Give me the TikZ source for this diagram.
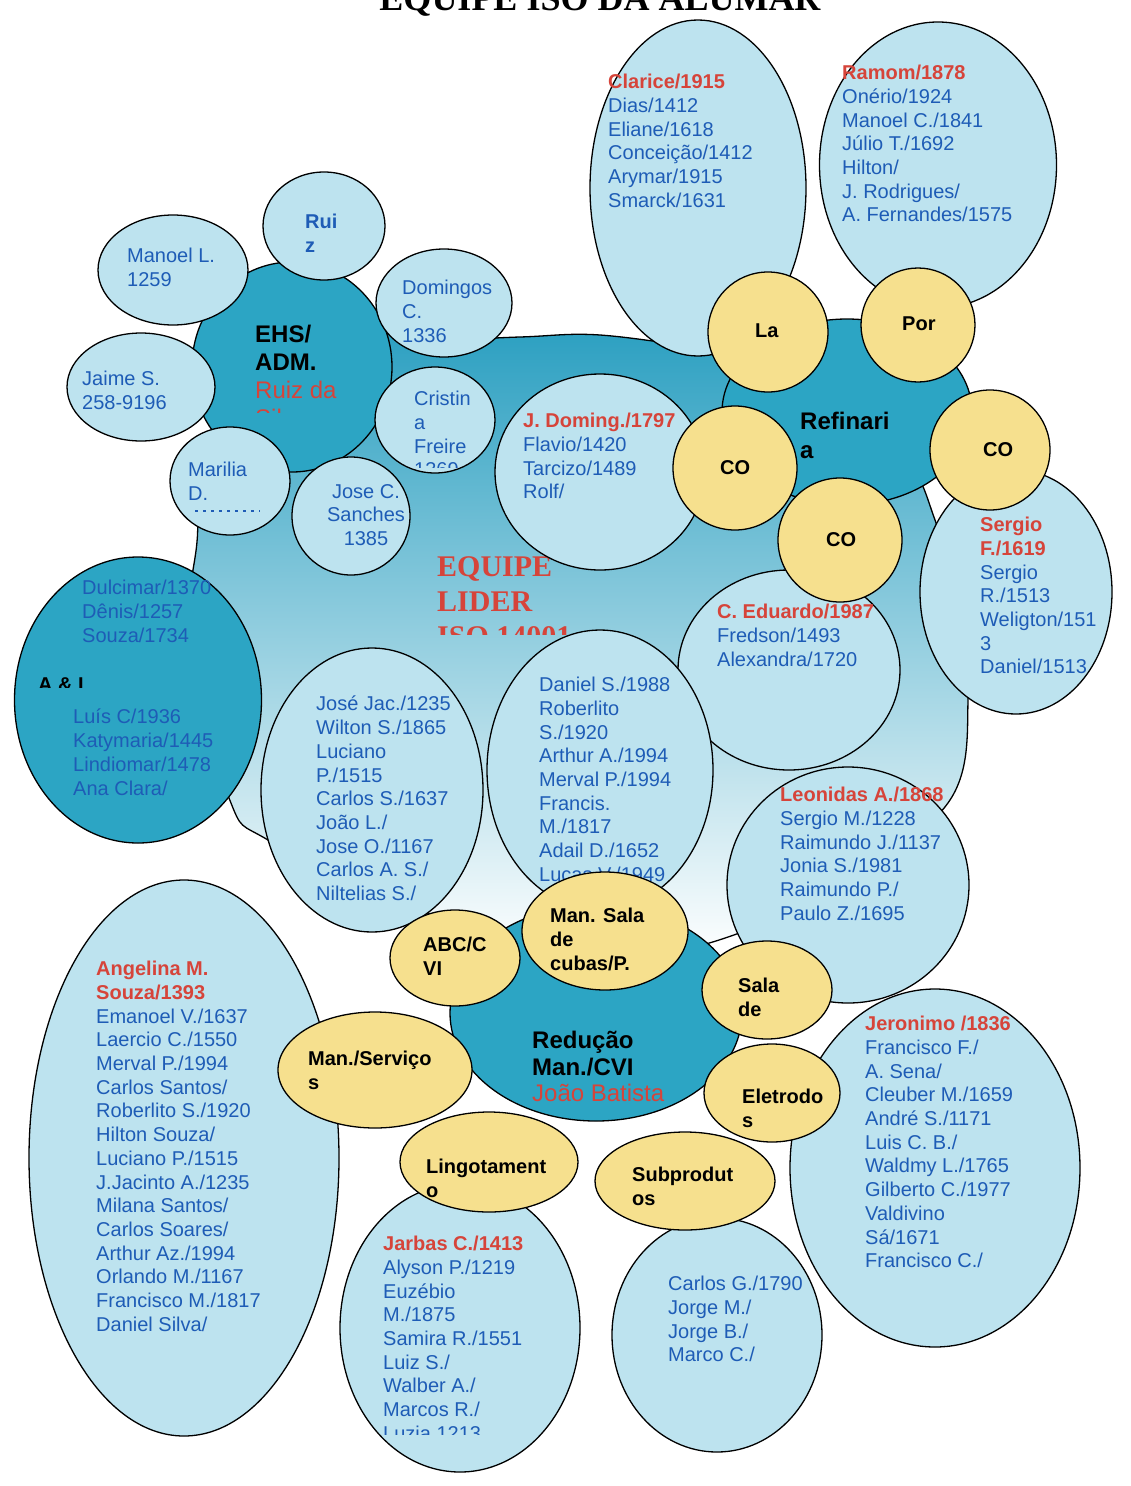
\documentclass[tikz,border=0pt]{standalone}
\usepackage{fontspec}
\setmainfont{Liberation Sans}
\newfontfamily\serifbf{Liberation Serif}
\usetikzlibrary{shapes.geometric}

\definecolor{lblue}{RGB}{189,227,239}
\definecolor{teal2}{RGB}{44,165,196}
\definecolor{ylw}{RGB}{246,224,142}
\definecolor{tblue}{RGB}{30,92,182}
\definecolor{tred}{RGB}{214,68,58}
\definecolor{gtop}{RGB}{40,158,192}
\definecolor{gmid}{RGB}{130,196,222}

% ellipse node: style, name, centre, width, height
\newcommand\Ell[5]{\node[#1, minimum width=#4pt, minimum height=#5pt] (#2) at (#3) {};}
\newcommand\rd[1]{{\color{tred}\bfseries #1}}

\begin{document}
\begin{tikzpicture}[x=1pt,y=-1pt,
  lb/.style={ellipse, draw=black, line width=1.3pt, fill=lblue, inner sep=0pt},
  dk/.style={ellipse, draw=black, line width=1.3pt, fill=teal2, inner sep=0pt},
  yl/.style={ellipse, draw=black, line width=1.3pt, fill=ylw, inner sep=0pt},
  txt/.style={inner sep=0pt, anchor=north west, align=left, text=tblue, font=\fontsize{20}{23.7}\selectfont},
  lbl/.style={inner sep=0pt, anchor=north west, align=left, text=black, font=\bfseries\fontsize{20}{24}\selectfont},
  hub/.style={inner sep=0pt, anchor=north west, align=left, text=black, font=\bfseries\fontsize{24}{28}\selectfont},
]
\clip (0,0) rectangle (1130,1486);
\fill[white] (0,0) rectangle (1130,1486);

% title
\node[anchor=base, inner sep=0pt, font=\serifbf\bfseries\fontsize{36}{40}\selectfont] (title) at (600,10) {EQUIPE ISO DA ALUMAR};

% central team region
\draw[line width=1.3pt, top color=gtop, middle color=gmid, bottom color=white]
  plot[smooth cycle, tension=0.6] coordinates {
  (350,330) (420,340) (520,337) (600,335) (712,350) (800,365) (900,450)
  (935,520) (955,600) (968,700) (950,800) (850,880) (742,932) (650,955)
  (560,952) (470,930) (400,900) (268,840) (229,798) (190,640) (197,542)
  (205,470) (260,420)};
\begin{scope}
  \clip (420,540) rectangle (640,634);
  \node[inner sep=0pt, anchor=north west, align=left, text=tred,
        font=\serifbf\bfseries\fontsize{30}{35}\selectfont] (lider) at (437,556) {EQUIPE\\LIDER\\ISO 14001};
\end{scope}

% ---------- EHS / ADM cluster ----------
\Ell{dk}{ehs}{292,367}{200}{210}
\begin{scope}
  \clip (240,310) rectangle (390,412);
  \node[hub] (t-ehs) at (255,325) {EHS/\\ADM.\\{\color{tred}\mdseries Ruiz da}\\{\color{tred}\mdseries Silva}};
\end{scope}
\Ell{lb}{ruiz}{324,226}{122}{108}
\node[lbl, text=tblue] (t-ruiz) at (305,214) {Rui\\z};
\Ell{lb}{manoel}{173,270}{150}{110}
\node[txt] (t-manoel) at (127,248) {Manoel L.\\1259};
\Ell{lb}{domingos}{444,303}{136}{108}
\node[txt] (t-domingos) at (402,280) {Domingos\\C.\\1336};
\Ell{lb}{jaime}{141,387}{148}{108}
\node[txt] (t-jaime) at (82,371) {Jaime S.\\258-9196};
\Ell{lb}{cristina}{435,420}{120}{106}
\begin{scope}
  \clip (400,380) rectangle (500,467);
  \node[txt] (t-cristina) at (414,391) {Cristin\\a\\Freire\\1369};
\end{scope}
\Ell{lb}{marilia}{230,481}{120}{108}
\node[txt] (t-marilia) at (188,462) {Marilia\\D.};
\draw[tblue, line width=1.5pt, dash pattern=on 3pt off 5pt] (195,511) -- (260,511);
\Ell{lb}{josec}{351,516}{118}{118}
\node[txt, anchor=north, align=center] (t-josec) at (366,484) {Jose C.\\Sanches\\1385};

% ---------- Refinaria cluster ----------
\Ell{dk}{refin}{847,412}{250}{186}
\node[hub, font=\bfseries\fontsize{24}{29}\selectfont] (t-refin) at (800,412) {Refinari\\a};
\Ell{lb}{clarice}{698,188}{216}{336}
\node[txt] (t-clarice) at (608,74) {\rd{Clarice/1915}\\Dias/1412\\Eliane/1618\\Conceição/1412\\Arymar/1915\\Smarck/1631};
\Ell{lb}{ramom}{938,165}{237}{286}
\node[txt] (t-ramom) at (842,65) {\rd{Ramom/1878}\\Onério/1924\\Manoel C./1841\\Júlio T./1692\\Hilton/\\J. Rodrigues/\\A. Fernandes/1575};
\Ell{lb}{jdom}{600,472}{210}{196}
\node[txt] (t-jdom) at (523,413) {\rd{J. Doming./1797}\\Flavio/1420\\Tarcizo/1489\\Rolf/};
\Ell{lb}{edu}{789,670}{222}{200}
\node[txt] (t-edu) at (717,604) {\rd{C. Eduardo/1987}\\Fredson/1493\\Alexandra/1720};
\Ell{lb}{sergio}{1016,592}{192}{244}
\node[txt] (t-sergio) at (980,517) {\rd{Sergio}\\\rd{F./1619}\\Sergio\\R./1513\\Weligton/151\\3\\Daniel/1513};
\Ell{yl}{la}{768,332}{120}{120}
\node[lbl] (t-la) at (755,324) {La};
\Ell{yl}{por}{918,325}{114}{114}
\node[lbl] (t-por) at (902,317) {Por};
\Ell{yl}{coL}{735,468}{124}{124}
\node[lbl] (t-coL) at (720,460) {CO};
\Ell{yl}{coR}{990,450}{120}{120}
\node[lbl] (t-coR) at (983,442) {CO};
\Ell{yl}{coB}{840,540}{124}{124}
\node[lbl] (t-coB) at (826,532) {CO};

% ---------- A & I ----------
\Ell{dk}{ai}{138,700}{247}{286}
\node[txt] (t-ai1) at (82,580) {Dulcimar/1370\\Dênis/1257\\Souza/1734};
\begin{scope}
  \clip (30,660) rectangle (130,687);
  \node[lbl] (t-ai) at (38,677) {A \& I};
\end{scope}
\node[txt] (t-ai2) at (73,709) {Luís C/1936\\Katymaria/1445\\Lindiomar/1478\\Ana Clara/};

% ---------- middle lists ----------
\Ell{lb}{jose}{372,790}{222}{284}
\node[txt] (t-jose) at (316,696) {José Jac./1235\\Wilton S./1865\\Luciano\\P./1515\\Carlos S./1637\\João L./\\Jose O./1167\\Carlos A. S./\\Niltelias S./};
\Ell{lb}{daniel}{600,770}{226}{280}
\node[txt] (t-daniel) at (539,677) {Daniel S./1988\\Roberlito\\S./1920\\Arthur A./1994\\Merval P./1994\\Francis.\\M./1817\\Adail D./1652\\Lucas V./1949};
\Ell{lb}{leon}{848,885}{242}{236}
\node[txt] (t-leon) at (780,787) {\rd{Leonidas A./1868}\\Sergio M./1228\\Raimundo J./1137\\Jonia S./1981\\Raimundo P./\\Paulo Z./1695};

% ---------- Redução cluster ----------
\Ell{dk}{red}{596,1013}{292}{216}
\node[hub, font=\bfseries\fontsize{24}{26.5}\selectfont] (t-red) at (532,1031) {Redução\\Man./CVI\\{\color{tred}\mdseries João Batista}};
\Ell{lb}{angel}{184,1158}{310}{556}
\node[txt] (t-angel) at (96,961) {\rd{Angelina M.}\\\rd{Souza/1393}\\Emanoel V./1637\\Laercio C./1550\\Merval P./1994\\Carlos Santos/\\Roberlito S./1920\\Hilton Souza/\\Luciano P./1515\\J.Jacinto A./1235\\Milana Santos/\\Carlos Soares/\\Arthur Az./1994\\Orlando M./1167\\Francisco M./1817\\Daniel Silva/};
\Ell{lb}{jarbas}{460,1328}{240}{288}
\begin{scope}
  \clip (370,1200) rectangle (590,1434);
  \node[txt] (t-jarbas) at (383,1236) {\rd{Jarbas C./1413}\\Alyson P./1219\\Euzébio\\M./1875\\Samira R./1551\\Luiz S./\\Walber A./\\Marcos R./\\Luzia 1213};
\end{scope}
\Ell{lb}{carlosg}{717,1335}{210}{234}
\node[txt] (t-carlosg) at (668,1276) {Carlos G./1790\\Jorge M./\\Jorge B./\\Marco C./};
\Ell{lb}{jeron}{935,1168}{290}{358}
\node[txt] (t-jeron) at (865,1016) {\rd{Jeronimo /1836}\\Francisco F./\\A. Sena/\\Cleuber M./1659\\André S./1171\\Luis C. B./\\Waldmy L./1765\\Gilberto C./1977\\Valdivino\\Sá/1671\\Francisco C./};

\Ell{yl}{abc}{455,958}{130}{96}
\node[lbl] (t-abc) at (423,937) {ABC/C\\VI};
\Ell{yl}{msala}{605,931}{166}{118}
\node[lbl] (t-msala) at (550,908) {Man. Sala\\de\\cubas/P.};
\Ell{yl}{salade}{767,990}{130}{98}
\node[lbl] (t-salade) at (738,978) {Sala\\de};
\Ell{yl}{eletro}{772,1093}{136}{98}
\node[lbl] (t-eletro) at (742,1089) {Eletrodo\\s};
\Ell{yl}{subp}{685,1181}{180}{98}
\node[lbl] (t-subp) at (632,1167) {Subprodut\\os};
\Ell{yl}{lingo}{489,1162}{178}{100}
\node[lbl] (t-lingo) at (426,1159) {Lingotament\\o};
\Ell{yl}{mserv}{375,1070}{194}{116}
\node[lbl] (t-mserv) at (308,1051) {Man./Serviço\\s};
\end{tikzpicture}
\end{document}
